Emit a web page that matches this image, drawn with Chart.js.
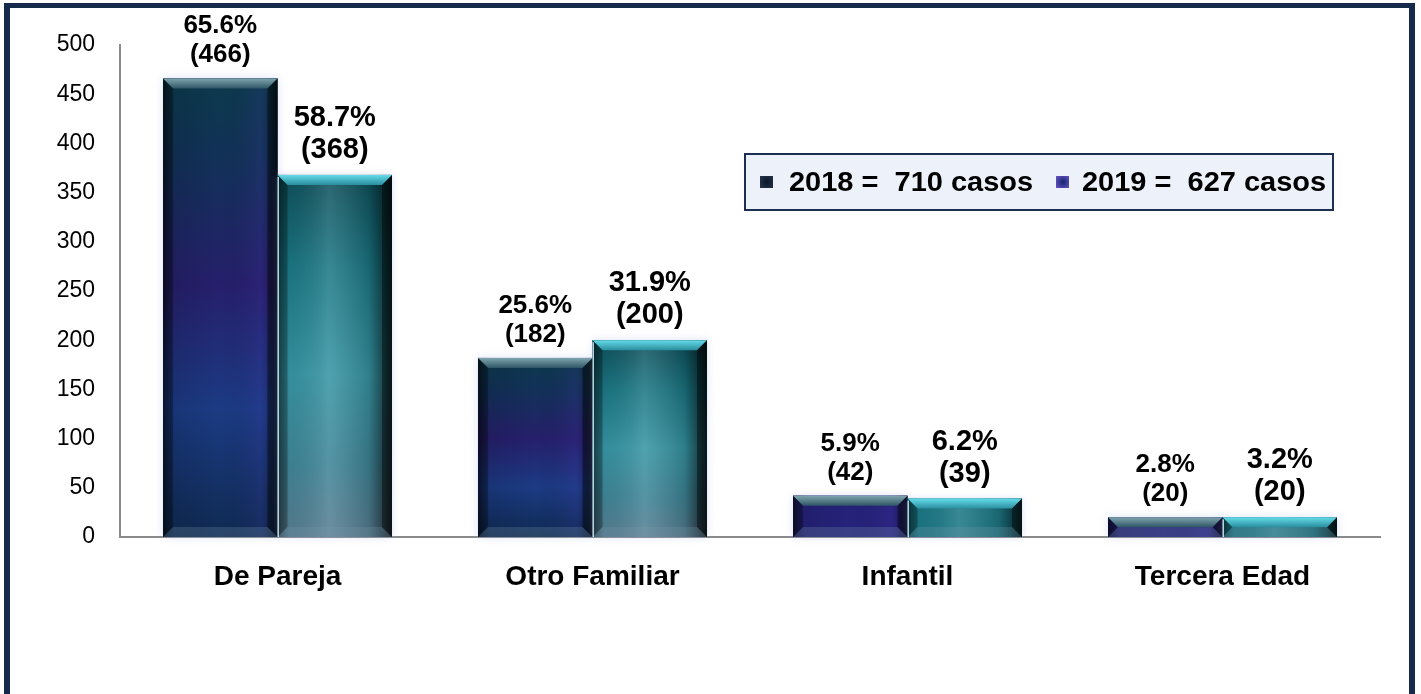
<!DOCTYPE html>
<html>
<head>
<meta charset="utf-8">
<script src="https://cdn.jsdelivr.net/npm/chart.js@4.4.1/dist/chart.umd.min.js"></script>
<style>
html,body{margin:0;padding:0;background:#fff;}
#wrap{position:relative;width:1421px;height:694px;}
</style>
</head>
<body>
<div id="wrap"><canvas id="c" width="1421" height="694"></canvas></div>
<script>
const categories = ['De Pareja', 'Otro Familiar', 'Infantil', 'Tercera Edad'];
const values2018 = [466, 182, 42, 20];
const values2019 = [368, 200, 39, 20];
const pct2018 = ['65.6%', '25.6%', '5.9%', '2.8%'];
const pct2019 = ['58.7%', '31.9%', '6.2%', '3.2%'];
const seriesLabels = ['2018 =  710 casos', '2019 =  627 casos'];
const yMin = 0, yMax = 500, yStep = 50;

const FONT = '"Liberation Sans", Arial, sans-serif';

function hGrad(ctx, x0, x1, stops) {
  const g = ctx.createLinearGradient(x0, 0, x1, 0);
  stops.forEach(s => g.addColorStop(s[0], s[1]));
  return g;
}
function vGrad(ctx, y0, y1, stops) {
  const g = ctx.createLinearGradient(0, y0, 0, y1);
  stops.forEach(s => g.addColorStop(s[0], s[1]));
  return g;
}

const barStyle = [
  { // 2018
    v: [[0, '#0b3a4c'], [0.2, '#13305a'], [0.45, '#261f6c'], [0.72, '#1b3b84'], [1, '#0f2a52']],
    h: [[0, 'rgba(0,0,0,0.55)'], [0.1, 'rgba(0,0,0,0.1)'], [0.5, 'rgba(0,0,0,0)'], [0.85, 'rgba(90,60,200,0.12)'], [0.94, 'rgba(0,0,0,0.25)'], [1, 'rgba(0,0,0,0.6)']],
    top: ['#7fa6ae', '#2f5666'],
    small: '#26227a'
  },
  { // 2019
    v: [[0, '#0e4f5a'], [0.25, '#1b7784'], [0.55, '#3795a4'], [0.8, '#3f8597'], [1, '#587e92']],
    h: [[0, 'rgba(0,0,0,0.45)'], [0.1, 'rgba(0,0,0,0.05)'], [0.45, 'rgba(255,255,255,0.12)'], [0.8, 'rgba(0,0,0,0.15)'], [0.92, 'rgba(0,0,0,0.5)'], [1, 'rgba(0,0,0,0.75)']],
    top: ['#66dcea', '#2a8e9e'],
    small: '#1c7886'
  }
];

const framePlugin = {
  id: 'frame',
  afterDraw(chart) {
    const ctx = chart.ctx;
    ctx.save();
    ctx.fillStyle = '#162a4c';
    ctx.fillRect(4, 4, 6, 690);
    ctx.fillRect(4, 3, 1411, 5);
    ctx.fillRect(1409, 4, 6, 690);
    ctx.restore();
  }
};

const barPaint = {
  id: 'barPaint',
  afterDatasetsDraw(chart) {
    const ctx = chart.ctx;
    chart.data.datasets.forEach((ds, di) => {
      const meta = chart.getDatasetMeta(di);
      const st = barStyle[di];
      meta.data.forEach(el => {
        const p = el.getProps(['x', 'y', 'base', 'width'], true);
        const l = p.x - p.width / 2, r = p.x + p.width / 2, t = p.y, b = p.base;
        const h = b - t;
        ctx.save();
        ctx.shadowColor = 'rgba(150,170,230,0.35)';
        ctx.shadowBlur = 8;
        ctx.fillStyle = h < 70 ? st.small : vGrad(ctx, t, b, st.v);
        ctx.fillRect(l, t, r - l, h);
        ctx.shadowBlur = 0;
        ctx.fillStyle = hGrad(ctx, l, r, st.h);
        ctx.fillRect(l, t, r - l, h);
        const bv = Math.min(10, h / 2);
        ctx.beginPath();
        ctx.moveTo(l, t); ctx.lineTo(r, t); ctx.lineTo(r - bv, t + bv); ctx.lineTo(l + bv, t + bv); ctx.closePath();
        ctx.fillStyle = vGrad(ctx, t, t + bv, [[0, st.top[0]], [1, st.top[1]]]);
        ctx.fill();
        ctx.beginPath();
        ctx.moveTo(l, b); ctx.lineTo(r, b); ctx.lineTo(r - bv, b - bv); ctx.lineTo(l + bv, b - bv); ctx.closePath();
        ctx.fillStyle = 'rgba(120,150,170,0.25)';
        ctx.fill();
        ctx.beginPath();
        ctx.moveTo(l, t); ctx.lineTo(l + bv, t + bv); ctx.lineTo(l + bv, b - bv); ctx.lineTo(l, b); ctx.closePath();
        ctx.fillStyle = 'rgba(0,0,0,0.25)';
        ctx.fill();
        ctx.beginPath();
        ctx.moveTo(r, t); ctx.lineTo(r - bv, t + bv); ctx.lineTo(r - bv, b - bv); ctx.lineTo(r, b); ctx.closePath();
        ctx.fillStyle = 'rgba(0,0,0,0.4)';
        ctx.fill();
        if (di === 1) {
          ctx.fillStyle = 'rgba(210,240,255,0.85)';
          ctx.fillRect(l, t + 2, 1.5, h - 2);
        }
        ctx.restore();
      });
    });
  },
  afterDraw(chart) {
    const ctx = chart.ctx;
    const pcts = [pct2018, pct2019];
    const sizes = [26, 29];
    const gaps = [16, 17];
    const spacing = [29, 32];
    ctx.save();
    ctx.fillStyle = '#000';
    ctx.textAlign = 'center';
    ctx.textBaseline = 'alphabetic';
    chart.data.datasets.forEach((ds, di) => {
      const meta = chart.getDatasetMeta(di);
      ctx.font = 'bold ' + sizes[di] + 'px ' + FONT;
      meta.data.forEach((el, j) => {
        const p = el.getProps(['x', 'y'], true);
        const b2 = p.y - gaps[di];
        ctx.fillText('(' + ds.data[j] + ')', p.x, b2);
        ctx.fillText(pcts[di][j], p.x, b2 - spacing[di]);
      });
    });
    // legend box
    const lx = 745, ly = 154, lw = 588, lh = 56;
    ctx.fillStyle = '#edf1f9';
    ctx.fillRect(lx, ly, lw, lh);
    ctx.strokeStyle = '#1b2f52';
    ctx.lineWidth = 2;
    ctx.strokeRect(lx, ly, lw, lh);
    const cy = ly + lh / 2;
    const mk = [[760, '#27364e', '#0d1a2c'], [1056, '#6a55c8', '#1e2a78']];
    const tx = [789, 1082];
    ctx.font = 'bold 28px ' + FONT;
    ctx.textAlign = 'left';
    ctx.textBaseline = 'middle';
    seriesLabels.forEach((s, i) => {
      const g = ctx.createRadialGradient(mk[i][0] + 7, cy, 1, mk[i][0] + 7, cy, 9);
      g.addColorStop(0, mk[i][2]);
      g.addColorStop(1, mk[i][1]);
      ctx.fillStyle = g;
      ctx.fillRect(mk[i][0], cy - 6, 13, 12);
      ctx.fillStyle = '#000';
      ctx.save();
      ctx.translate(tx[i], cy + 1);
      ctx.scale(1.035, 1);
      ctx.fillText(s, 0, 0);
      ctx.restore();
    });
    ctx.restore();
  }
};

new Chart(document.getElementById('c'), {
  type: 'bar',
  data: {
    labels: categories,
    datasets: [
      { label: seriesLabels[0], data: values2018, backgroundColor: '#1b2a66', borderWidth: 0 },
      { label: seriesLabels[1], data: values2019, backgroundColor: '#1f7f8c', borderWidth: 0 }
    ]
  },
  options: {
    responsive: false,
    animation: false,
    events: [],
    layout: { padding: { left: 0, top: 45, right: 41, bottom: 0 } },
    categoryPercentage: 0.727,
    barPercentage: 1.0,
    plugins: { legend: { display: false }, tooltip: { enabled: false } },
    scales: {
      x: {
        grid: { display: false, drawTicks: false },
        border: { display: true, color: '#8a8a8a', width: 2 },
        ticks: { color: '#000', font: { family: FONT, size: 28, weight: 'bold' }, padding: 23, maxRotation: 0 },
        afterFit(s) { s.height = 157; }
      },
      y: {
        min: yMin, max: yMax,
        grid: { display: false, drawTicks: false },
        border: { display: true, color: '#8a8a8a', width: 2 },
        ticks: { stepSize: yStep, color: '#000', font: { family: FONT, size: 23 }, padding: 25 },
        afterFit(s) { s.width = 120; }
      }
    }
  },
  plugins: [barPaint, framePlugin]
});
</script>
</body>
</html>
